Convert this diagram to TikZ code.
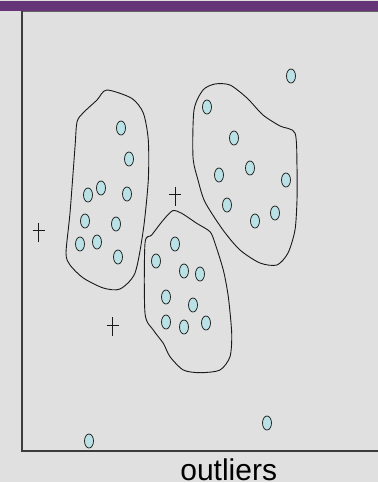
\documentclass[tikz,border=0pt]{standalone}
\usepackage{fontspec}
\setmainfont{Liberation Sans}
\usetikzlibrary{shapes.geometric}
\definecolor{bargray}{RGB}{224, 224, 224}
\definecolor{titlepurple}{RGB}{101, 53, 119}
\definecolor{pointcyan}{RGB}{186, 226, 230}
\definecolor{axisgray}{RGB}{60, 60, 60}

\begin{document}
\begin{tikzpicture}[
    x=1pt, y=-1pt,
    pt/.style={ellipse, draw=black!85, fill=pointcyan, line width=0.8pt, minimum width=9pt, minimum height=14pt, inner sep=0pt},
    hull/.style={draw=black!90, line width=0.9pt, smooth cycle, tension=0.45},
    cross/.style={draw=black!90, line width=1pt}
]
    % frame and title bar
    \fill[bargray] (0,0) rectangle (378,483);
    \useasboundingbox (0,0) rectangle (378,483);
    \fill[titlepurple] (0,1) rectangle (378,10.5);
    \draw[axisgray!80, line width=1pt] (22,11) -- (378,11);
    \draw[axisgray, line width=1.4pt] (22,11) -- (22,451) -- (378,451);

    % first cluster
    \draw[hull] plot coordinates {(106.7,90) (131.7,98.3) (143.3,113) (148.3,140) (148.3,180) (143.3,230) (135,273) (120,289) (103.3,288) (83.3,278) (70,265) (66,253) (70,213) (75,147) (77,122) (83,113) (97,100)};
    \foreach \x/\y [count=\i] in {121/128, 129/159, 101/188, 88/195, 127/194, 85/221, 116/224, 80/244, 97/242, 118/257}
        \node[pt] (a\i) at (\x,\y) {};

    % second cluster
    \draw[hull] plot coordinates {(203,90) (215,84) (230,85) (247,98) (263,115) (280,126) (295,133) (297,167) (297,200) (295,230) (288,253) (277,265) (260,263) (240,250) (223,230) (205,202) (198,180) (193,157) (194,110)};
    \foreach \x/\y [count=\i] in {207/107, 234/138, 250/168, 219/175, 286/180, 227/205, 275/213, 255/221}
        \node[pt] (b\i) at (\x,\y) {};

    % third cluster
    \draw[hull] plot coordinates {(172.7,210.7) (181.7,213.3) (196.7,223.3) (210,231.7) (215,243.3) (223.3,270) (228.3,296.7) (231.7,333.3) (230,356.7) (220,370) (200,372.7) (183.3,370) (170,356.7) (163.3,343.3) (153.3,330) (145,313.3) (145,243.3) (151.7,235) (163.3,220)};
    \foreach \x/\y [count=\i] in {175/244, 156/261, 184/271, 200/274, 166/297, 193/305, 166/322, 184/327, 206/323}
        \node[pt] (c\i) at (\x,\y) {};

    % outliers
    \node[pt] (o1) at (291,76) {};
    \node[pt] (o2) at (267,423) {};
    \node[pt] (o3) at (89,441) {};
    \foreach \x/\y in {38.5/232, 112.5/326.5, 175/196}
        \draw[cross] (\x,\y-9.5) -- (\x,\y+9.5) (\x-6,\y-1.5) -- (\x+6,\y-1.5);

    \node[anchor=base, inner sep=0pt, font=\fontsize{30}{36}\selectfont] (lbl) at (228.7,480.3) {outliers};
    \fill[white] (0,481.6) rectangle (378,483);
\end{tikzpicture}
\end{document}
